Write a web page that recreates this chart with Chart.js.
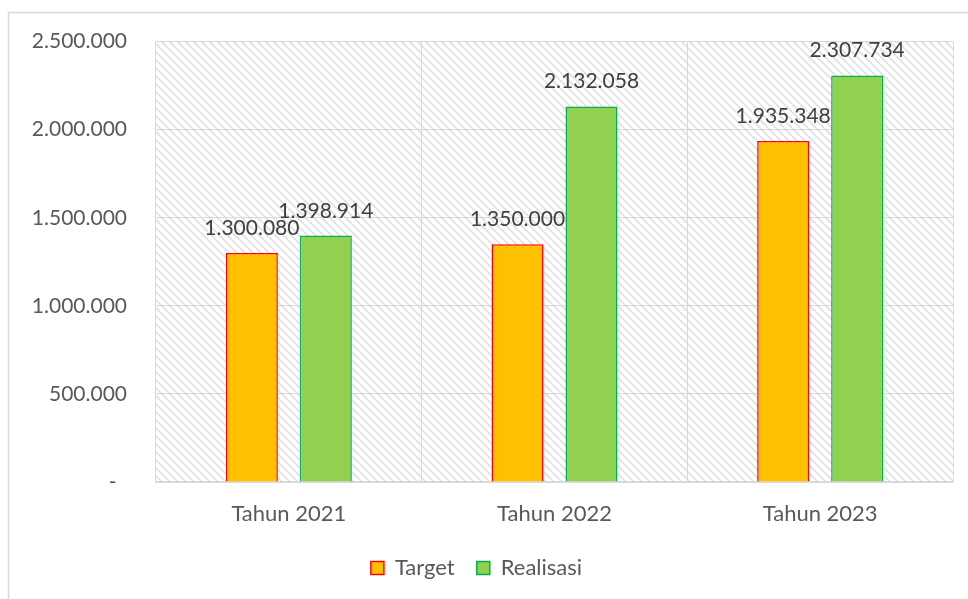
<!DOCTYPE html>
<html>
<head>
<meta charset="utf-8">
<script src="https://cdn.jsdelivr.net/npm/chart.js@4"></script>
<style>
  body { margin: 0; background: #fff; }
  #wrap { width: 968px; height: 599px; }
</style>
</head>
<body>
<div id="wrap"><canvas id="chart" width="968" height="599"></canvas></div>
<script>
// chart data
const categories = ["Tahun 2021", "Tahun 2022", "Tahun 2023"];
const targetValues = [1300080, 1350000, 1935348];
const realisasiValues = [1398914, 2132058, 2307734];
const yTickValues = [0, 500000, 1000000, 1500000, 2000000, 2500000];

const FONT = "Lato, 'Open Sans', sans-serif";

// 1234567 -> "1.234.567", zero shown as "-" like Excel accounting format
function formatNumber(v) {
  if (v === 0) return "-\u2002";
  return String(Math.round(v)).replace(/\B(?=(\d{3})+(?!\d))/g, ".");
}

// diagonal hatch used for the plot area
function makeHatch() {
  const size = 8;
  const c = document.createElement("canvas");
  c.width = size;
  c.height = size;
  const g = c.getContext("2d");
  g.fillStyle = "#ffffff";
  g.fillRect(0, 0, size, size);
  g.strokeStyle = "#e4e4e4";
  g.lineWidth = 2;
  g.beginPath();
  for (let k = -1; k <= 1; k++) {
    g.moveTo(k * size, 0);
    g.lineTo(k * size + size, size);
  }
  g.stroke();
  return g.createPattern(c, "repeat");
}

const backgroundPlugin = {
  id: "background",
  beforeDraw(chart) {
    const { ctx, chartArea, width, height } = chart;
    ctx.save();
    ctx.fillStyle = "#ffffff";
    ctx.fillRect(0, 0, width, height);
    // outer chart frame (only top and left are inside the picture)
    ctx.strokeStyle = "#d9d9d9";
    ctx.lineWidth = 1.5;
    ctx.beginPath();
    ctx.moveTo(8.5, height);
    ctx.lineTo(8.5, 12.5);
    ctx.lineTo(width, 12.5);
    ctx.stroke();
    // hatched plot area
    ctx.fillStyle = makeHatch();
    ctx.fillRect(chartArea.left, chartArea.top,
      chartArea.right - chartArea.left, chartArea.bottom - chartArea.top);
    ctx.restore();
  }
};

// value labels above the bars, nudged apart where they collide
const valueLabelPlugin = {
  id: "valueLabels",
  afterDatasetsDraw(chart) {
    const { ctx } = chart;
    ctx.save();
    ctx.font = "21px " + FONT;
    ctx.fillStyle = "#404040";
    ctx.textAlign = "center";
    ctx.textBaseline = "alphabetic";
    const gap = 18;
    const textH = 15;
    const boxes = [];
    chart.data.datasets.forEach((ds, di) => {
      const meta = chart.getDatasetMeta(di);
      meta.data.forEach((bar, i) => {
        const text = formatNumber(ds.data[i]);
        const w = ctx.measureText(text).width;
        let x = bar.x;
        const y = bar.y - gap;
        boxes.forEach((b) => {
          if (b.i !== i) return;
          const overlapX = (b.x + b.w / 2) - (x - w / 2);
          const overlapY = Math.abs(b.y - y) < textH;
          if (overlapX > 0 && overlapY) x += overlapX / 2;
        });
        boxes.push({ i, x, y, w });
        ctx.fillText(text, x, y);
      });
    });
    ctx.restore();
  }
};

new Chart(document.getElementById("chart").getContext("2d"), {
  type: "bar",
  data: {
    labels: categories,
    datasets: [
      {
        label: "Target",
        data: targetValues,
        backgroundColor: "#FFC000",
        borderColor: "#FF0000",
        borderWidth: 1.5
      },
      {
        label: "Realisasi",
        data: realisasiValues,
        backgroundColor: "#92D050",
        borderColor: "#00B050",
        borderWidth: 1.5
      }
    ]
  },
  options: {
    responsive: false,
    animation: false,
    layout: { padding: { left: 0, top: 41, right: 15, bottom: 10 } },
    datasets: {
      bar: { categoryPercentage: 0.557, barPercentage: 0.703 }
    },
    scales: {
      x: {
        grid: { color: "#d9d9d9", lineWidth: 1, drawTicks: false, offset: true },
        border: { display: true, color: "#d9d9d9", width: 1.5 },
        ticks: { color: "#595959", font: { family: FONT, size: 22 }, padding: 19 },
        afterFit(scale) { scale.height = 53; }
      },
      y: {
        min: 0,
        max: 2500000,
        grid: { color: "#d9d9d9", lineWidth: 1, drawTicks: false },
        border: { display: false },
        afterBuildTicks(scale) {
          scale.ticks = yTickValues.map((v) => ({ value: v }));
        },
        ticks: {
          color: "#595959",
          font: { family: FONT, size: 21 },
          padding: 29,
          callback: (v) => formatNumber(v)
        },
        afterFit(scale) { scale.width = 156; }
      }
    },
    plugins: {
      legend: {
        position: "bottom",
        labels: {
          color: "#595959",
          font: { family: FONT, size: 22 },
          boxWidth: 13,
          boxHeight: 13,
          padding: 22
        }
      },
      tooltip: { enabled: false }
    }
  },
  plugins: [backgroundPlugin, valueLabelPlugin]
});
</script>
</body>
</html>
